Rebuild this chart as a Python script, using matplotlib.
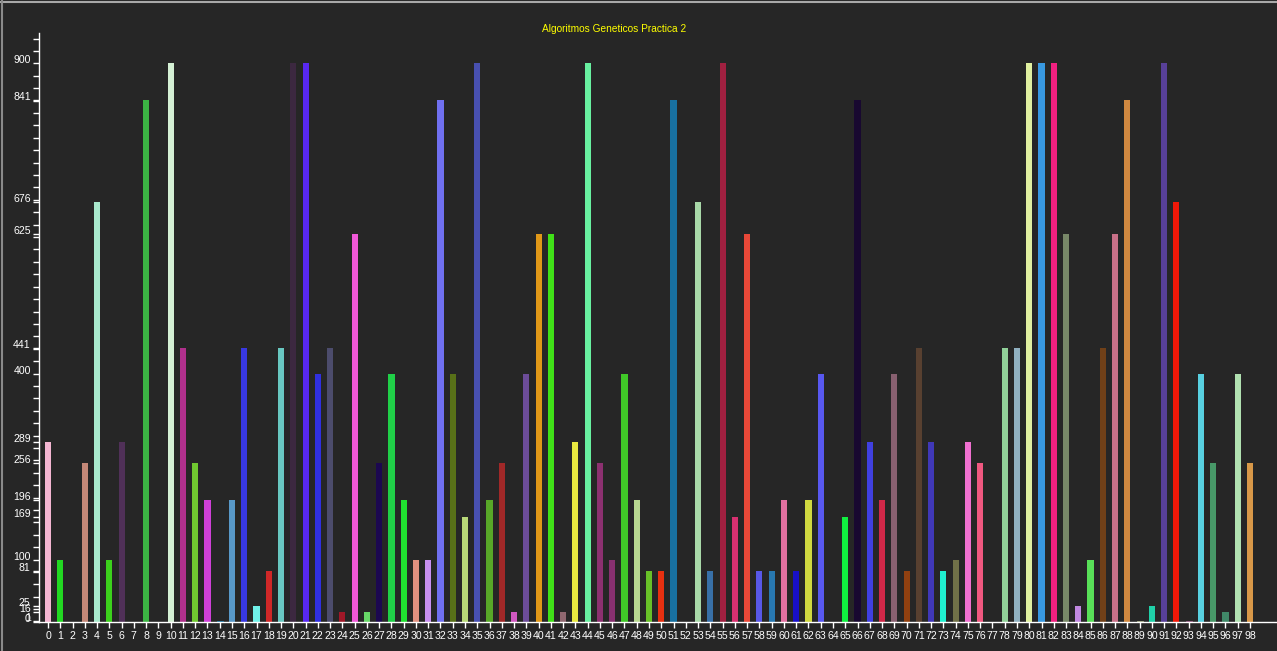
import matplotlib
matplotlib.use("Agg")
import matplotlib.pyplot as plt
from matplotlib.ticker import MultipleLocator, FixedLocator
from matplotlib.lines import Line2D

title = "Algoritmos Geneticos Practica 2"

indices = list(range(99))
values = [289, 100, 0, 256, 676, 100, 289, 0, 841, 0,
          900, 441, 256, 196, 1, 196, 441, 25, 81, 441,
          900, 900, 400, 441, 16, 625, 16, 256, 400, 196,
          100, 100, 841, 400, 169, 900, 196, 256, 16, 400,
          625, 625, 16, 289, 900, 256, 100, 400, 196, 81,
          81, 841, 0, 676, 81, 900, 169, 625, 81, 81,
          196, 81, 196, 400, 0, 169, 841, 289, 196, 400,
          81, 441, 289, 81, 100, 289, 256, 0, 441, 441,
          900, 900, 900, 625, 25, 100, 441, 625, 841, 1,
          25, 900, 676, 1, 400, 256, 16, 400, 256]

colors = ["#f4b6d2", "#22d822", "#262626", "#c48878", "#a8e8cc", "#3cd01c", "#503058", "#262626", "#3cb444", "#262626",
          "#d4f0d4", "#b0308c", "#70c830", "#d040d8", "#1070a0", "#5898c8", "#3838e0", "#70f0e8", "#d02828", "#68c8c0",
          "#3c2840", "#5828f0", "#3030e0", "#4c4c6c", "#a01828", "#f058d8", "#68d868", "#1c0850", "#20d048", "#20e030",
          "#e09080", "#c890f0", "#7070f0", "#587018", "#b8d878", "#4850b0", "#58a828", "#a02828", "#d058c0", "#6c4c98",
          "#e09818", "#40e018", "#906870", "#e8e840", "#68f0a0", "#8c3070", "#883070", "#40c828", "#b8d890", "#68c028",
          "#e83010", "#1870a0", "#262626", "#a8d8a8", "#3870a8", "#a02040", "#d83070", "#e84838", "#5858e8", "#2878b0",
          "#e070a0", "#1810c8", "#d0d840", "#5858f0", "#262626", "#10f040", "#180830", "#4040e0", "#d02848", "#886070",
          "#904010", "#584030", "#4038b8", "#20f0d0", "#707048", "#f070d0", "#f05880", "#262626", "#90d098", "#90b0c0",
          "#e0f0a0", "#3898e0", "#f02080", "#788868", "#c088e0", "#58e058", "#704018", "#c87088", "#d08840", "#a0a880",
          "#20d0a8", "#584098", "#f01808", "#905080", "#58d0e0", "#489868", "#408868", "#b0e0b0", "#d89848"]

ytick_values = sorted(set(values))

BG = "#262626"
W, H = 1277, 651
fig = plt.figure(figsize=(W / 100, H / 100), dpi=100, facecolor=BG)

ax = fig.add_axes([39 / W, 29.3 / H, (W - 39) / W, (621.7 - 33) / H], facecolor=BG)
bars = ax.bar(indices, values, width=0.5, color=colors)
for b, v in zip(bars, values):
    if 0 < v < 2:
        # very small bars: draw a thin outline so the 1-pixel mark stays visible
        b.set_edgecolor(b.get_facecolor())
        b.set_linewidth(0.6)

ax.set_xlim(-0.734, 100.2)
ax.set_ylim(0, 949)

for s in ["top", "right"]:
    ax.spines[s].set_visible(False)
for s in ["left", "bottom"]:
    ax.spines[s].set_color("white")
    ax.spines[s].set_linewidth(1.0)

ax.set_xticks(indices)
ax.set_xticklabels([str(i) for i in indices])
ax.yaxis.set_major_locator(FixedLocator(ytick_values))
ax.set_yticklabels([str(v) for v in ytick_values])
ax.yaxis.set_minor_locator(MultipleLocator(20))

font = "Liberation Sans"
ax.tick_params(axis="x", colors="white", length=4, width=1, pad=2.5, labelsize=7.6, direction="out")
ax.tick_params(axis="y", which="major", colors="white", length=4.5, width=1, pad=1.5, labelsize=7.6, direction="out")
ax.tick_params(axis="y", which="minor", colors="white", length=4.5, width=1, direction="out")
for t in ax.get_xticklabels() + ax.get_yticklabels():
    t.set_fontfamily(font)
for t in ax.get_yticklabels():
    t.set_verticalalignment("baseline")

fig.text(614 / W, 1 - 29 / H, title, color="#ffff00", fontsize=7.3, fontfamily=font,
         ha="center", va="center")

# window border lines (top and left)
fig.add_artist(Line2D([0, 1], [1 - 1.5 / H, 1 - 1.5 / H], transform=fig.transFigure, color="#a8a8a8", lw=1.5))
fig.add_artist(Line2D([1.5 / W, 1.5 / W], [0, 1], transform=fig.transFigure, color="#8a8a8a", lw=1.5))

fig.savefig("out.png", dpi=100, facecolor=BG)
